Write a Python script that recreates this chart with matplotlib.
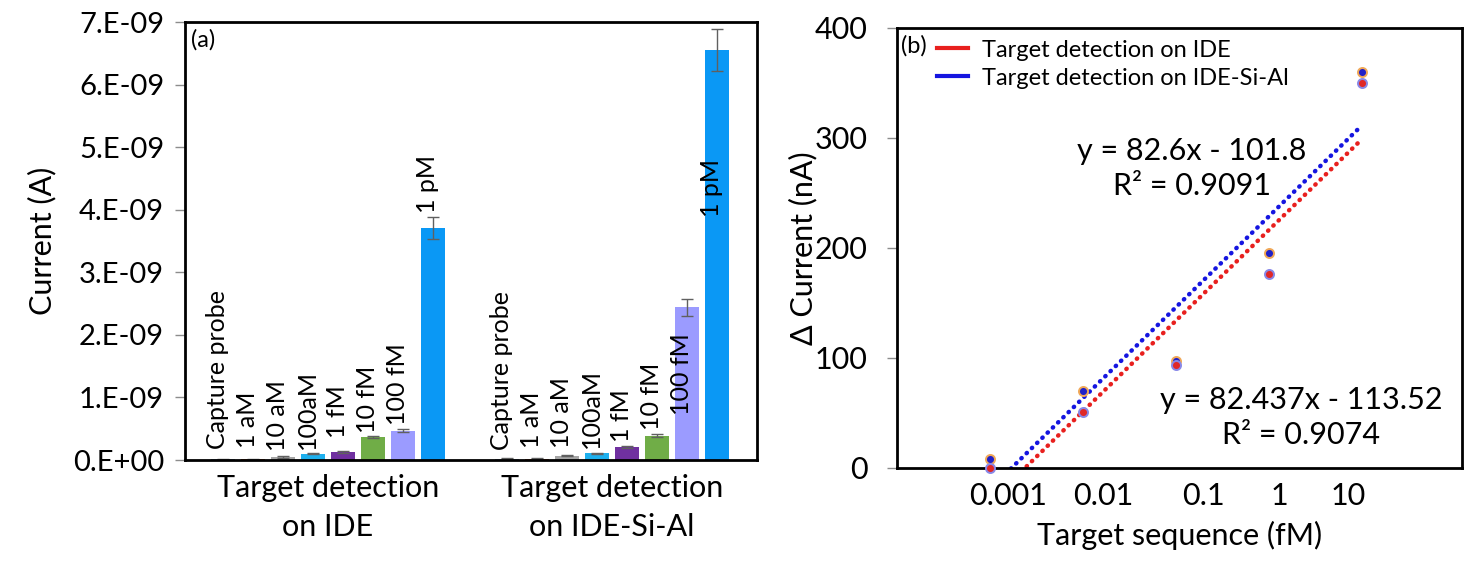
import numpy as np
import matplotlib.pyplot as plt
from matplotlib.ticker import FuncFormatter, MultipleLocator
from matplotlib.lines import Line2D

plt.rcParams['font.family'] = ['Lato', 'DejaVu Sans']

# ---- panel (a) data ----
conc_labels = ["Capture probe", "1 aM", "10 aM", "100aM", "1 fM", "10 fM", "100 fM", "1 pM"]
bar_colors = ["#7f93b0", "#c0561e", "#a5a5a5", "#1eb0ee", "#7030a0", "#70ad47", "#9b9bff", "#0a98f5"]
groups = ["Target detection\non IDE", "Target detection\non IDE-Si-Al"]
current_ide = [0.01e-9, 0.01e-9, 0.05e-9, 0.10e-9, 0.13e-9, 0.37e-9, 0.47e-9, 3.71e-9]
err_ide = [0.005e-9, 0.005e-9, 0.01e-9, 0.01e-9, 0.01e-9, 0.02e-9, 0.03e-9, 0.18e-9]
current_sial = [0.02e-9, 0.02e-9, 0.07e-9, 0.11e-9, 0.21e-9, 0.39e-9, 2.44e-9, 6.55e-9]
err_sial = [0.005e-9, 0.005e-9, 0.01e-9, 0.01e-9, 0.01e-9, 0.02e-9, 0.14e-9, 0.34e-9]
# bottom of each rotated label (A)
label_y_ide = [0.17e-9, 0.19e-9, 0.15e-9, 0.18e-9, 0.35e-9, 0.43e-9, 0.56e-9, 3.95e-9]
label_y_sial = [0.16e-9, 0.19e-9, 0.19e-9, 0.19e-9, 0.29e-9, 0.48e-9, 0.72e-9, 3.88e-9]

# ---- panel (b) data ----
x_idx = [1, 2, 3, 4, 5]
xtick_labels = ["0.001", "0.01", "0.1", "1", "10"]
xtick_pos = [1.2, 2.22, 3.3, 4.12, 4.85]
dcur_sial = [8, 70, 97, 195, 360]
dcur_ide = [0, 51, 94, 176, 350]
fit_sial = (82.6, -101.8)
fit_ide = (82.437, -113.52)
eq_sial = "y = 82.6x - 101.8\nR² = 0.9091"
eq_ide = "y = 82.437x - 113.52\nR² = 0.9074"

fig = plt.figure(figsize=(14.75, 5.65), dpi=100)
ax1 = fig.add_axes([0.1254, 0.1858, 0.3878, 0.7752])
ax2 = fig.add_axes([0.6081, 0.1717, 0.3831, 0.7788])

# ---- (a) bars ----
gap = 9.47
pos1 = np.arange(8)
pos2 = pos1 + gap
ekw = dict(ecolor="#606060", elinewidth=1, capsize=4, capthick=1)
ax1.bar(pos1, current_ide, 0.8, color=bar_colors, yerr=err_ide, error_kw=ekw, zorder=2)
ax1.bar(pos2, current_sial, 0.8, color=bar_colors, yerr=err_sial, error_kw=ekw, zorder=2)
for p, lab, ly in zip(pos1, conc_labels, label_y_ide):
    ax1.text(p - 0.2, ly, lab, rotation=90, ha="center", va="bottom", fontsize=18, zorder=3)
for p, lab, ly in zip(pos2, conc_labels, label_y_sial):
    ax1.text(p - 0.2, ly, lab, rotation=90, ha="center", va="bottom", fontsize=18, zorder=3)

ax1.set_xlim(-1.27, pos2[-1] + 1.33)
ax1.set_ylim(0, 7e-9)
ax1.yaxis.set_major_locator(MultipleLocator(1e-9))
ax1.yaxis.set_major_formatter(FuncFormatter(
    lambda v, _: "0.E+00" if abs(v) < 1e-12 else "%d.E-09" % round(v / 1e-9)))
ax1.set_xticks([(pos1[0] + pos1[-1]) / 2, (pos2[0] + pos2[-1]) / 2])
ax1.set_xticklabels(groups, fontsize=22, linespacing=1.5)
ax1.tick_params(axis="x", length=0, pad=10)
ax1.tick_params(axis="y", labelsize=21, length=7, width=1, color="#8c8c8c", pad=8)
ax1.set_ylabel("Current (A)", fontsize=22, labelpad=12)
ax1.text(0.01, 0.985, "(a)", transform=ax1.transAxes, fontsize=17, ha="left", va="top")
for s in ax1.spines.values():
    s.set_linewidth(2)

# ---- (b) scatter + trendlines ----
xl = np.array([1, 5])
ax2.plot(xl, fit_ide[0] * xl + fit_ide[1], color="#e8201e", lw=3.2,
         linestyle=(0, (0.1, 1.55)), dash_capstyle="round", zorder=2)
ax2.plot(xl, fit_sial[0] * xl + fit_sial[1], color="#1515e0", lw=3.2,
         linestyle=(0, (0.1, 1.55)), dash_capstyle="round", zorder=2)
ax2.plot(x_idx, dcur_sial, "o", ms=6.5, mfc="#2020c8", mec="#f0a858", mew=1.4,
         zorder=3, clip_on=False)
ax2.plot(x_idx, dcur_ide, "o", ms=6.5, mfc="#e02828", mec="#8888e8", mew=1.4,
         zorder=3, clip_on=False)

ax2.text(3.17, 272, eq_sial, fontsize=22, ha="center", va="center", linespacing=1.3)
ax2.text(4.35, 46, eq_ide, fontsize=22, ha="center", va="center", linespacing=1.3)

handles = [Line2D([], [], color="#e8201e", lw=3), Line2D([], [], color="#1515e0", lw=3)]
ax2.legend(handles, ["Target detection on IDE", "Target detection on IDE-Si-Al"],
           loc="upper left", bbox_to_anchor=(0.055, 0.995), frameon=False, fontsize=17,
           handlelength=1.3, handletextpad=0.6, labelspacing=0.3, borderaxespad=0)
ax2.text(0.008, 0.985, "(b)", transform=ax2.transAxes, fontsize=17, ha="left", va="top")

ax2.set_xlim(0, 6.08)
ax2.set_ylim(0, 400)
ax2.yaxis.set_major_locator(MultipleLocator(100))
ax2.set_xticks(xtick_pos)
ax2.set_xticklabels(xtick_labels)
ax2.tick_params(axis="x", length=0, labelsize=22, pad=10)
ax2.tick_params(axis="y", labelsize=22, length=7, width=1, color="#8c8c8c", pad=14)
ax2.set_ylabel("Δ Current (nA)", fontsize=22, labelpad=-2)
ax2.set_xlabel("Target sequence (fM)", fontsize=22, labelpad=8)
for s in ax2.spines.values():
    s.set_linewidth(2)

fig.savefig("out.png", dpi=100)
